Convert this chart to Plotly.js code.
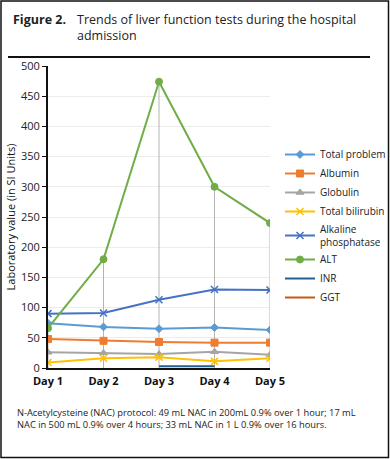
<!DOCTYPE html>
<html>
<head>
<meta charset="utf-8">
<script src="https://cdn.plot.ly/plotly-3.0.1.min.js"></script>
<style>
html,body{margin:0;padding:0;background:#fff;}
#chart{width:390px;height:459px;}
</style>
</head>
<body>
<div id="chart"></div>
<script>
const days = ['Day 1', 'Day 2', 'Day 3', 'Day 4', 'Day 5'];
const totalProtein = [74, 68, 65, 67, 63];
const albumin = [48, 45, 43, 42, 42];
const globulin = [26, 25, 23, 27, 22];
const totalBilirubin = [9, 16, 18, 11, 16];
const alkalinePhosphatase = [90, 91, 113, 130, 129];
const alt = [66, 180, 474, 300, 240];
const inr = [null, null, 3, 3, null];
const ggt = [null, null, null, null, null];
const yTicks = [0, 50, 100, 150, 200, 250, 300, 350, 400, 450, 500];

const FONT = 'Open Sans, Noto Sans, sans-serif';

// drop lines from ALT points to the x axis
const dropX = [], dropY = [];
days.forEach((d, i) => { dropX.push(d, d, null); dropY.push(alt[i], 0, null); });

function series(name, y, color, symbol, size) {
  const t = {
    x: days, y: y, name: name, type: 'scatter',
    mode: symbol ? 'lines+markers' : 'lines',
    line: {color: color, width: 2},
    connectgaps: false
  };
  if (symbol) t.marker = {symbol: symbol, size: size, color: color, line: {color: color, width: 1}};
  return t;
}

const traces = [
  {x: dropX, y: dropY, type: 'scatter', mode: 'lines', showlegend: false, hoverinfo: 'skip',
   line: {color: '#b4b4b4', width: 1}},
  series('Total problem', totalProtein, '#5B9BD5', 'diamond', 6),
  series('Albumin', albumin, '#ED7D31', 'square', 7),
  series('Globulin', globulin, '#A5A5A5', 'triangle-up', 7),
  series('Total bilirubin', totalBilirubin, '#FFC000', 'x-thin', 7),
  series('Alkaline<br>phosphatase', alkalinePhosphatase, '#4472C4', 'x-thin', 7),
  series('ALT', alt, '#70AD47', 'circle', 7),
  series('INR', inr, '#255E91', null, 0),
  series('GGT', ggt, '#C55A11', null, 0)
];
traces[4].marker.line.width = 1.5;
traces[5].marker.line.width = 1.5;

const L = 48, R = 270, T = 66, B = 368;
const px = v => (v - L) / (R - L);
const py = v => (B - v) / (B - T);

const layout = {
  width: 390, height: 459,
  margin: {l: L, r: 390 - R, t: T, b: 459 - B, pad: 0, autoexpand: false},
  paper_bgcolor: '#fff', plot_bgcolor: '#fff',
  font: {family: FONT, color: '#222', size: 11},
  xaxis: {
    type: 'category', range: [0, 4], showgrid: false, zeroline: false,
    showline: true, linecolor: '#111', linewidth: 2,
    ticks: '', ticklabelstandoff: 2,
    tickfont: {family: FONT, size: 11, color: '#111', weight: 'bold'},
    fixedrange: true, automargin: false
  },
  yaxis: {
    range: [0, 500], tickvals: yTicks, ticktext: yTicks.map(String),
    showgrid: true, gridcolor: '#ececec', gridwidth: 1, zeroline: false,
    showline: true, linecolor: '#111', linewidth: 2,
    ticks: 'outside', ticklen: 4, tickcolor: '#111', tickwidth: 1,
    tickfont: {family: FONT, size: 11, color: '#222'},
    title: {text: 'Laboratory value (in SI Units)', standoff: 3,
            font: {family: FONT, size: 11, color: '#111'}},
    fixedrange: true, automargin: false
  },
  legend: {
    x: px(280), y: py(140), xanchor: 'left', yanchor: 'top',
    bgcolor: 'rgba(0,0,0,0)', font: {family: FONT, size: 10, color: '#222'},
    tracegroupgap: 0, itemwidth: 30
  },
  shapes: [
    {type: 'rect', xref: 'paper', yref: 'paper', x0: px(1), x1: px(388.5), y0: py(457.5), y1: py(1),
     line: {color: '#111', width: 1.5}, fillcolor: 'rgba(0,0,0,0)'},
    {type: 'line', xref: 'paper', yref: 'paper', x0: px(8), x1: px(370), y0: py(57), y1: py(57),
     line: {color: '#111', width: 2}}
  ],
  annotations: [
    {text: '<b>Figure 2.</b>', xref: 'paper', yref: 'paper', x: px(11), y: py(9),
     xanchor: 'left', yanchor: 'top', showarrow: false,
     font: {family: FONT, size: 12.5, color: '#222'}},
    {text: 'Trends of liver function tests during the hospital<br>admission',
     xref: 'paper', yref: 'paper', x: px(75), y: py(9), xanchor: 'left', yanchor: 'top',
     align: 'left', showarrow: false, font: {family: FONT, size: 12.5, color: '#222'}},
    {text: 'N-Acetylcysteine (NAC) protocol: 49 mL NAC in 200mL 0.9% over 1 hour; 17 mL<br>NAC in 500 mL 0.9% over 4 hours; 33 mL NAC in 1 L 0.9% over 16 hours.',
     xref: 'paper', yref: 'paper', x: px(15), y: py(404), xanchor: 'left', yanchor: 'top',
     align: 'left', showarrow: false, font: {family: FONT, size: 9.3, color: '#222'}}
  ]
};

Plotly.newPlot('chart', traces, layout, {staticPlot: true, displayModeBar: false});
</script>
</body>
</html>
